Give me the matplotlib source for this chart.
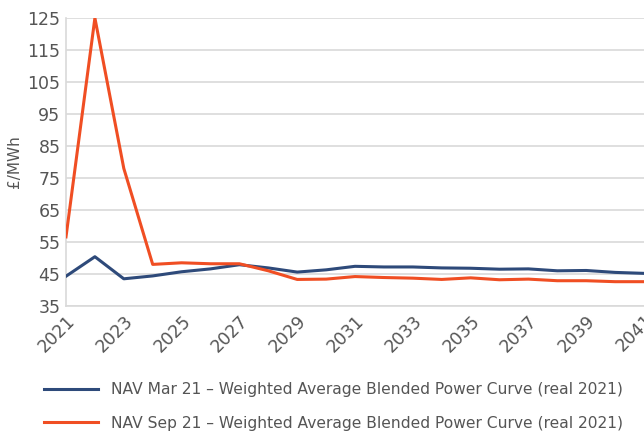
import matplotlib
matplotlib.use("Agg")
import matplotlib.pyplot as plt

years = list(range(2021, 2042))
nav_mar21 = [44.3, 50.4, 43.5, 44.4, 45.7, 46.6, 47.9, 46.9, 45.6, 46.3, 47.4, 47.2, 47.2, 46.9, 46.8, 46.5, 46.6, 46.0, 46.1, 45.5, 45.2]
nav_sep21 = [56.6, 125.0, 78.0, 48.0, 48.5, 48.2, 48.2, 46.0, 43.3, 43.4, 44.2, 43.9, 43.7, 43.3, 43.8, 43.2, 43.4, 42.9, 42.9, 42.6, 42.6]
labels = ["NAV Mar 21 \u2013 Weighted Average Blended Power Curve (real 2021)",
          "NAV Sep 21 \u2013 Weighted Average Blended Power Curve (real 2021)"]
yticks = list(range(35, 126, 10))
xticks = list(range(2021, 2042, 2))

plt.rcParams['font.family'] = ['DejaVu Sans']
fig = plt.figure(figsize=(6.44, 4.32), dpi=100)
ax = fig.add_axes([66/644, 1-306/432, 1-66/644, 288/432])

ax.plot(years, nav_mar21, color='#2e4a7a', lw=2.2, label=labels[0], zorder=3)
ax.plot(years, nav_sep21, color='#f04e23', lw=2.2, label=labels[1], zorder=3)

ax.set_xlim(2021, 2041)
ax.set_ylim(35, 125)
ax.set_yticks(yticks)
ax.set_xticks(xticks)
ax.grid(axis='y', color='#d9d9d9', lw=1.2)
ax.set_axisbelow(True)
for s in ['top', 'right']:
    ax.spines[s].set_visible(False)
ax.spines['left'].set_color('#d9d9d9')
ax.spines['bottom'].set_color('#d9d9d9')
ax.spines['left'].set_linewidth(1.2)
ax.spines['bottom'].set_linewidth(1.2)
ax.tick_params(length=0, colors='#555555', labelsize=12.5, pad=4)
for lab in ax.get_xticklabels():
    lab.set_rotation(45)
    lab.set_ha('right')
    lab.set_va('top')
    lab.set_rotation_mode('anchor')
ax.set_ylabel('\u00a3/MWh', color='#555555', fontsize=11, labelpad=4)

leg = fig.legend(loc='upper left', bbox_to_anchor=(30/644, 1-368/432), frameon=False,
                 fontsize=11.2, labelcolor='#555555', handlelength=3.5, handletextpad=0.8,
                 labelspacing=1.2)
fig.savefig('out.png', dpi=100)
